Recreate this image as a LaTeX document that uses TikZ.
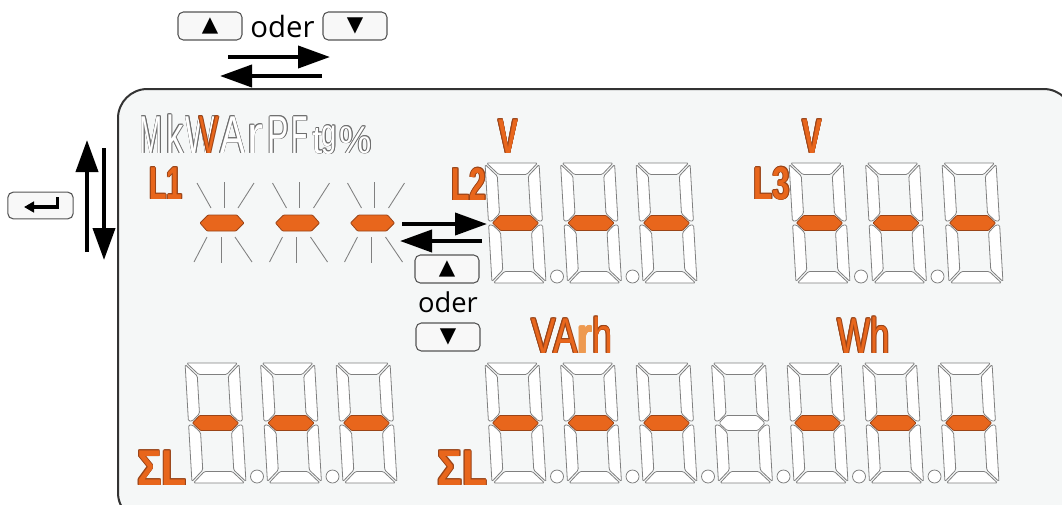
\documentclass[tikz,border=0pt]{standalone}
\usepackage{fontspec}
\usepackage{graphicx}
\usetikzlibrary{arrows.meta}
\newfontfamily\lcdsans{Liberation Sans}
\newfontfamily\uisans{Open Sans}
\newfontfamily\symfont{DejaVu Sans}
\definecolor{lcdorange}{HTML}{E8661C}
\definecolor{lcddark}{HTML}{9A4418}
\definecolor{lcdlight}{HTML}{EE9A50}
\definecolor{seggray}{HTML}{808080}
\definecolor{ltrgray}{HTML}{6E6E6E}
\definecolor{panelfill}{HTML}{F5F7F7}
\definecolor{panelline}{HTML}{333333}
\definecolor{btnline}{HTML}{555555}
\definecolor{btnfill}{HTML}{F8F8F8}
\newcommand\glyph[3]{{\lcdsans\fontsize{#1}{#1}\selectfont\scalebox{#2}[1]{#3}}}
\newcommand\bglyph[3]{{\lcdsans\bfseries\fontsize{#1}{#1}\selectfont\scalebox{#2}[1]{#3}}}
\newcommand\ringtext[5]{%
  \foreach \dx/\dy in {0.9/0,-0.9/0,0/0.9,0/-0.9,0.64/0.64,-0.64/0.64,0.64/-0.64,-0.64/-0.64}{%
    \node[lbl,text=#3] at ([shift={(\dx,\dy)}]#1,#2) {#5};}%
  \node[lbl,text=#4] at (#1,#2) {#5};}
\tikzset{
  lbl/.style={inner sep=0pt,anchor=base},
  seg/.style={draw=seggray,fill=white,line width=0.6pt,rounded corners=1pt},
  midseg/.style={draw=lcddark,fill=lcdorange,line width=0.6pt,rounded corners=0.6pt},
  panel/.style={draw=panelline,fill=panelfill,line width=1.5pt,rounded corners=22pt},
  btn/.style={draw=btnline,fill=btnfill,line width=0.8pt,rounded corners=4pt,minimum width=48pt,minimum height=21pt,inner sep=0pt},
  bigarrow/.style={line width=3pt,-{Triangle[length=24pt,width=16.5pt]}},
  ray/.style={draw=seggray,line width=0.65pt},
  ddot/.style={draw=seggray,fill=white,line width=0.6pt},
  tri/.style={font=\symfont\fontsize{16}{16}\selectfont},
  sevenseg/.pic={
    \begin{scope}[yscale=-1,xslant=0.058]
      \path[seg] (1.5,120)--(52.5,120)--(41,108.5)--(13,108.5)--cycle;
      \path[seg] (0,118.5)--(11.5,107)--(11.5,69.5)--(4,62)--(0,62)--cycle;
      \path[seg] (54,118.5)--(42.5,107)--(42.5,69.5)--(50,62)--(54,62)--cycle;
      \path[seg] (0,1.5)--(11.5,13)--(11.5,50.5)--(4,58)--(0,58)--cycle;
      \path[seg] (54,1.5)--(42.5,13)--(42.5,50.5)--(50,58)--(54,58)--cycle;
      \path[seg] (1.5,0)--(52.5,0)--(41,11.5)--(13,11.5)--cycle;
      \path[midseg] (4,60)--(11.5,67.5)--(42.5,67.5)--(50,60)--(42.5,52.5)--(11.5,52.5)--cycle;
    \end{scope}
  }
}
\begin{document}
\begin{tikzpicture}[x=0.75pt,y=-0.75pt]
\useasboundingbox (0,0) rectangle (1062,504);
\clip (0,0) rectangle (1062,504);
\fill[white] (0,0) rectangle (1062,504);
% panel
\path[panel] (118,522) rectangle (1073,89);
% top buttons
\node[btn,tri] (upT) at (210,26) {▲};
\node[lbl,font=\uisans\fontsize{22}{22}\selectfont] (oderT) at (282.5,37) {oder};
\node[btn,tri] (dnT) at (355,26) {▼};
\coordinate (ta1) at (228,57); \coordinate (ta2) at (330,57);
\coordinate (tb1) at (322,76); \coordinate (tb2) at (220,76);
\draw[bigarrow] (ta1) -- (ta2);
\draw[bigarrow] (tb1) -- (tb2);
% enter button and vertical arrows
\node[btn,minimum width=49pt,minimum height=20pt] (ent) at (40.5,205.5) {};
\coordinate (e1) at (57.5,197); \coordinate (e2) at (57.5,207); \coordinate (e3) at (24,207);
\draw[line width=2.4pt,line join=miter,-{Triangle[length=7.5pt,width=8pt]}] (e1) -- (e2) -- (e3);
\coordinate (la1) at (87,252); \coordinate (la2) at (87,140);
\coordinate (lb1) at (104,148); \coordinate (lb2) at (104,260);
\draw[bigarrow] (la1) -- (la2);
\draw[bigarrow] (lb1) -- (lb2);
% middle arrows and buttons
\coordinate (ma1) at (402,224); \coordinate (ma2) at (487,224);
\coordinate (mb1) at (482,241); \coordinate (mb2) at (400,241);
\draw[bigarrow] (ma1) -- (ma2);
\draw[bigarrow] (mb1) -- (mb2);
\node[btn,tri] (upM) at (447,269) {▲};
\node[lbl,font=\uisans\fontsize{20.5}{20.5}\selectfont] (oderM) at (448,312) {oder};
\node[btn,tri] (dnM) at (448,337) {▼};
% unit letters
\ringtext{151.5}{153}{ltrgray}{white}{\glyph{40}{0.52}{M}}
\ringtext{175}{153}{ltrgray}{white}{\glyph{40}{0.65}{k}}
\ringtext{201}{153}{ltrgray}{white}{\glyph{40}{0.6}{W}}
\ringtext{209}{153}{lcddark}{lcdorange}{\glyph{40}{0.55}{V}}
\ringtext{232.5}{153}{ltrgray}{white}{\glyph{40}{0.7}{A}}
\ringtext{255}{153}{ltrgray}{white}{\glyph{40}{0.9}{r}}
\ringtext{278.5}{153}{ltrgray}{white}{\glyph{40}{0.6}{P}}
\ringtext{300}{153}{ltrgray}{white}{\glyph{40}{0.5}{F}}
\ringtext{318}{153}{ltrgray}{white}{\glyph{29}{0.95}{t}}
\ringtext{329.5}{146}{ltrgray}{white}{\glyph{29}{0.7}{g}}
\ringtext{356}{153}{ltrgray}{white}{\glyph{29}{0.94}{\%}}
% orange labels
\ringtext{166}{199}{lcddark}{lcdorange}{\bglyph{34.6}{0.62}{L1}}
\ringtext{469}{200}{lcddark}{lcdorange}{\bglyph{34.6}{0.65}{L2}}
\ringtext{772}{199}{lcddark}{lcdorange}{\bglyph{34.6}{0.68}{L3}}
\ringtext{508}{153}{lcddark}{lcdorange}{\bglyph{36.7}{0.61}{V}}
\ringtext{812}{153}{lcddark}{lcdorange}{\bglyph{36.7}{0.61}{V}}
\ringtext{572}{353}{lcddark}{lcdorange}{\glyph{37.7}{0.73}{VA\textcolor{lcdlight}{\bfseries r}h}}
\ringtext{863.5}{353}{lcddark}{lcdorange}{\glyph{37.7}{0.7}{Wh}}
\ringtext{162}{485}{lcddark}{lcdorange}{\bglyph{37.7}{0.82}{ΣL}}
\ringtext{462.5}{485}{lcddark}{lcdorange}{\bglyph{37.7}{0.82}{ΣL}}
% blinking dashes of L1
\foreach \cx in {222,297.5,372.5}{
  \draw[ray] (\cx-25,183) -- (\cx-11,208);
  \draw[ray] (\cx+2,182) -- (\cx+2,208);
  \draw[ray] (\cx+32,183) -- (\cx+16,208);
  \draw[ray] (\cx-15,237) -- (\cx-28,262);
  \draw[ray] (\cx-1,237) -- (\cx-1,263);
  \draw[ray] (\cx+13,237) -- (\cx+30,262);
  \path[midseg] (\cx-22,223) -- (\cx-14,215) -- (\cx+15,215) -- (\cx+22,223) -- (\cx+14,231) -- (\cx-15,231) -- cycle;
}
% digits L2
\foreach \i in {0,1,2}{\pic at ({492+75.5*\i},283) {sevenseg};}
\foreach \i in {0,1}{\path[ddot] ({492+75.5*\i+65},276.5) circle[radius=6.5];}
% digits L3
\foreach \i in {0,1,2}{\pic at ({796+76.5*\i},283) {sevenseg};}
\foreach \i in {0,1}{\path[ddot] ({796+76.5*\i+65},276.5) circle[radius=6.5];}
% bottom left
\foreach \i in {0,1,2}{\pic at ({192+75.5*\i},483) {sevenseg};}
\foreach \i in {0,1}{\path[ddot] ({192+75.5*\i+65},476.5) circle[radius=6.5];}
% bottom right
\foreach \i in {0,1,2,4,5,6}{\pic at ({492+75.5*\i},483) {sevenseg};}
\pic[midseg/.style={seg}] at ({492+75.5*3},483) {sevenseg};
\foreach \i in {0,...,5}{\path[ddot] ({492+75.5*\i+65},476.5) circle[radius=6.5];}
\end{tikzpicture}
\end{document}
